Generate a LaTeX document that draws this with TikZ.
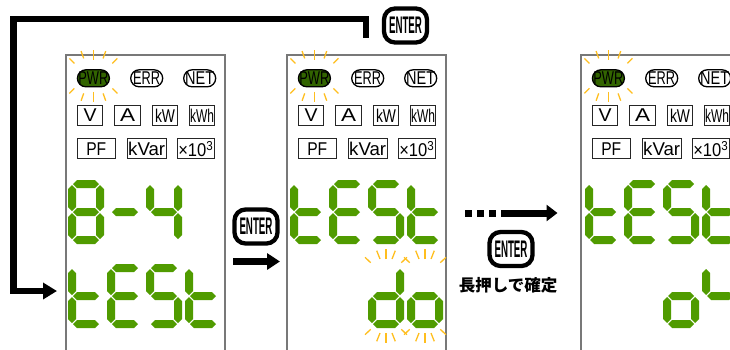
\documentclass[tikz,border=0pt]{standalone}
\usepackage{fontspec}
\setmainfont{Liberation Sans}
\newfontfamily\jp{Noto Sans CJK JP}
\usepackage{graphicx}
\usetikzlibrary{arrows.meta}

\definecolor{seg}{RGB}{80,155,0}
\definecolor{pwrgreen}{RGB}{50,100,0}
\definecolor{rayc}{RGB}{255,190,30}
\definecolor{frame}{RGB}{120,120,120}

\newsavebox{\fitbox}
\newcommand{\fitw}[2]{\sbox{\fitbox}{#2}\resizebox{#1pt}{\ht\fitbox}{#2}}
% seven segment display, digit cell 36 x 64, top left corner given
\newcommand{\hseg}[2]{\fill[seg] ({#1-13},{#2}) -- ++(4,-4) -- ++(18,0) -- ++(4,4) -- ++(-4,4) -- ++(-18,0) -- cycle;}
\newcommand{\vseg}[2]{\fill[seg] ({#1},{#2-13}) -- ++(4,4) -- ++(0,18) -- ++(-4,4) -- ++(-4,-4) -- ++(0,-18) -- cycle;}
\newcommand{\sega}[2]{\hseg{#1+18}{#2+4}}
\newcommand{\segb}[2]{\vseg{#1+32}{#2+18}}
\newcommand{\segc}[2]{\vseg{#1+32}{#2+46}}
\newcommand{\segd}[2]{\hseg{#1+18}{#2+60}}
\newcommand{\sege}[2]{\vseg{#1+4}{#2+46}}
\newcommand{\segf}[2]{\vseg{#1+4}{#2+18}}
\newcommand{\segg}[2]{\hseg{#1+18}{#2+32}}
\newcommand{\digit}[3]{\foreach \s in {#3}{\csname seg\s\endcsname{#1}{#2}}}
% blinking rays
\newcommand{\pwrrays}{0/16/0/26, 9.7/17.5/12.3/24.8, 19/12.5/24/17.5}
\newcommand{\digrays}{0/37/0/47, 6/37/9.3/45.3, 15.3/33.3/21/38.7}
\newcommand{\glow}[3]{\foreach \ax/\ay/\bx/\by in #3 {\foreach \sx in {-1,1} {\foreach \sy in {-1,1} {%
  \draw[ray] ({#1+(\sx)*(\ax)},{#2+(\sy)*(\ay)}) -- ({#1+(\sx)*(\bx)},{#2+(\sy)*(\by)});}}}}

\begin{document}
\begin{tikzpicture}[x=1pt, y=-1pt,
  panel/.style={draw=frame, line width=1.5pt},
  pill/.style={draw, line width=1.3pt, rounded corners=8.5pt, minimum width=32pt,
  minimum height=17pt, inner sep=0pt, font=\fontsize{18.5}{18.5}\selectfont},
  unit/.style={draw=black!85, line width=1pt, fill=white, minimum height=19.7pt,
  inner sep=0pt, font=\fontsize{18.5}{18.5}\selectfont},
  key/.style={draw, line width=4.3pt, rounded corners=11pt, minimum width=43pt,
  minimum height=34pt, inner sep=0pt, font=\fontsize{24}{24}\selectfont\bfseries},
  fat/.style={line width=6.5pt},
  ray/.style={draw=rayc, line width=1.3pt}
]
  \useasboundingbox (0,0) rectangle (730,349);
  \clip (0,0) rectangle (730,349);

  % three display panels
  \foreach \i/\px in {1/66, 2/287, 3/581} {
    \draw[panel] (\px,55) rectangle ++(159,330);
    \node[pill, fill=pwrgreen] (pwr\i) at (\px+27.4,78.3) {\fitw{30}{PWR}};
    \node[pill] (err\i) at (\px+80.7,78.3) {\fitw{27}{ERR}};
    \node[pill] (net\i) at (\px+133.7,78.3) {\fitw{29}{NET}};
    \node[unit, minimum width=25.7pt] (v\i) at (\px+24,115.3) {\fitw{13}{V}};
    \node[unit, minimum width=26pt] (a\i) at (\px+61.5,115.3) {\fitw{15}{A}};
    \node[unit, minimum width=25.7pt] (kw\i) at (\px+99,115.3) {\fitw{20}{kW}};
    \node[unit, minimum width=25pt] (kwh\i) at (\px+136,115.3) {\fitw{24}{kWh}};
    \node[unit, minimum width=38.3pt] (pf\i) at (\px+30.3,148.7) {\fitw{20}{PF}};
    \node[unit, minimum width=39pt] (kvar\i) at (\px+80.7,148.7) {\fitw{37}{kVar}};
    \node[unit, minimum width=37.3pt] (exp\i) at (\px+129.8,148.7) {\fitw{35}{×10\textsuperscript{3}}};
    \glow{\px+27.4}{75.9}{\pwrrays}
  }

  % panel 1: 8-4 / tESt
  \digit{68}{180}{a,b,c,d,e,f,g}
  \digit{107}{180}{g}
  \digit{146}{180}{b,c,f,g}
  \digit{68}{264}{d,e,f,g}
  \digit{107}{264}{a,d,e,f,g}
  \digit{146}{264}{a,c,d,f,g}
  \digit{185}{264}{d,e,f,g}
  % panel 2: tESt / do (blinking)
  \digit{290}{180}{d,e,f,g}
  \digit{329}{180}{a,d,e,f,g}
  \digit{368}{180}{a,c,d,f,g}
  \digit{407}{180}{d,e,f,g}
  \digit{368}{264}{b,c,d,e,g}
  \digit{407}{264}{c,d,e,g}
  \glow{386}{296}{\digrays}
  \glow{425}{296}{\digrays}
  % panel 3
  \digit{585}{180}{d,e,f,g}
  \digit{624}{180}{a,d,e,f,g}
  \digit{663}{180}{a,c,d,f,g}
  \digit{702}{180}{d,e,f,g}
  \digit{663}{264}{c,d,e,g}
  \digit{702}{264}{b,c,f,g}

  % keys
  \node[key] (enter) at (405.5,25.5) {\fitw{33}{ENTER}};
  \node[key] (enter2) at (256,226.5) {\fitw{33}{ENTER}};
  \node[key] (enter3) at (511,249) {\fitw{33}{ENTER}};
  \node[font=\fontsize{16.5}{16.5}\jp\bfseries] (hold) at (508,285) {長押しで確定};

  % arrows
  \coordinate (loopa) at (366,37.5);
  \coordinate (loopb) at (13.5,19);
  \coordinate (loopc) at (57,291);
  \draw[fat, -{Triangle[length=14pt,width=16pt]}] (loopa) |- (loopb) |- (loopc);
  \coordinate (m1) at (233,261.5);
  \coordinate (m2) at (280,261.5);
  \draw[fat, -{Triangle[length=13pt,width=16pt]}] (m1) -- (m2);
  \coordinate (d1) at (465,213);
  \coordinate (d2) at (557.5,213);
  \draw[line width=7pt, dash pattern=on 7pt off 5pt on 7pt off 5pt on 7pt off 5pt on 300pt,
    -{Triangle[length=11pt,width=16pt]}] (d1) -- (d2);
\end{tikzpicture}
\end{document}
